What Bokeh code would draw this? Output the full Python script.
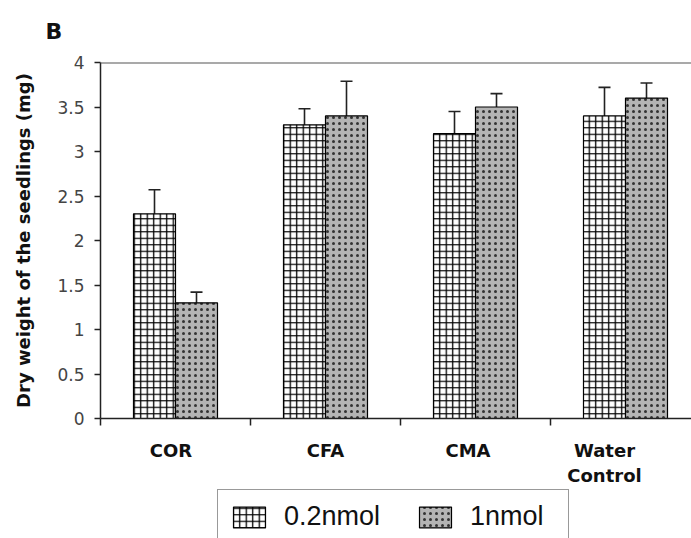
from bokeh.plotting import figure
from bokeh.layouts import column
from bokeh.models import (Range1d, FixedTicker, Whisker, ColumnDataSource, Legend,
                          LegendItem, Span, TeeHead)
from bokeh.embed import file_html
from bokeh.resources import INLINE

# ---- data ----
categories = ["COR", "CFA", "CMA", "Water\nControl"]
low_dose = [2.3, 3.3, 3.2, 3.4]          # 0.2nmol
low_err = [0.27, 0.18, 0.25, 0.32]
high_dose = [1.3, 3.4, 3.5, 3.6]         # 1nmol
high_err = [0.12, 0.39, 0.15, 0.17]
series_names = ["0.2nmol", "1nmol"]
y_ticks = [0, 0.5, 1, 1.5, 2, 2.5, 3, 3.5, 4]
y_tick_labels = ["0", "0.5", "1", "1.5", "2", "2.5", "3", "3.5", "4"]
label_pos = [0.47, 1.5, 2.45, 3.36]

W = 691
H1, H2 = 488, 50
LEFT, TOP, FRAME_H = 100, 62, 356
CAT_PX = 150.0

LOW_STYLE = dict(fill_color="white", line_color="black", line_width=1.2,
                 hatch_pattern="+", hatch_color="black", hatch_scale=6.5, hatch_weight=1.3)
HIGH_STYLE = dict(fill_color="#b4b4b4", line_color="black", line_width=1.2,
                  hatch_pattern=".", hatch_color="#333333", hatch_scale=6, hatch_weight=1.3)

p = figure(width=W, height=H1, output_backend="svg", toolbar_location=None,
           x_range=Range1d(0, (W - LEFT) / CAT_PX), y_range=Range1d(0, 4),
           min_border_left=LEFT, min_border_right=0, min_border_top=TOP,
           min_border_bottom=H1 - TOP - FRAME_H)
p.outline_line_color = None
p.xgrid.visible = False
p.ygrid.visible = False
p.background_fill_color = "white"

# panel letter
p.title.text = "B"
p.title.align = "left"
p.title.vertical_align = "top"
p.title.offset = -55
p.title.standoff = 34
p.title.text_font = "DejaVu Sans"
p.title.text_font_style = "bold"
p.title.text_font_size = "22px"
p.title.text_color = "#111111"

bw = 0.28
x_low = [i + 0.5 - bw / 2 for i in range(len(categories))]
x_high = [i + 0.5 + bw / 2 for i in range(len(categories))]

src_low = ColumnDataSource(dict(x=x_low, top=low_dose,
                                upper=[v + e for v, e in zip(low_dose, low_err)],
                                lower=[v - e for v, e in zip(low_dose, low_err)]))
src_high = ColumnDataSource(dict(x=x_high, top=high_dose,
                                 upper=[v + e for v, e in zip(high_dose, high_err)],
                                 lower=[v - e for v, e in zip(high_dose, high_err)]))

p.vbar(x="x", top="top", bottom=0, width=bw, source=src_low, **LOW_STYLE)
p.vbar(x="x", top="top", bottom=0, width=bw, source=src_high, **HIGH_STYLE)

for src in (src_low, src_high):
    w = Whisker(source=src, base="x", upper="upper", lower="lower",
                line_color="#222222", line_width=1.6,
                upper_head=TeeHead(size=12, line_color="#222222", line_width=1.6),
                lower_head=TeeHead(size=12, line_color="#222222", line_width=1.6))
    p.add_layout(w)

# top frame line
p.add_layout(Span(location=4, dimension="width", line_color="#555555", line_width=2))

# x axis
xa = p.xaxis[0]
xa.ticker = FixedTicker(ticks=label_pos, minor_ticks=list(range(len(categories) + 1)))
xa.major_label_overrides = {pos: c for pos, c in zip(label_pos, categories)}
xa.major_tick_line_color = None
xa.major_tick_out = 0
xa.major_tick_in = 0
xa.minor_tick_out = 7
xa.minor_tick_in = 0
xa.minor_tick_line_color = "#222222"
xa.minor_tick_line_width = 1.5
xa.axis_line_color = "#222222"
xa.axis_line_width = 1.5
xa.major_label_standoff = 14
xa.major_label_text_font = "DejaVu Sans"
xa.major_label_text_font_style = "bold"
xa.major_label_text_font_size = "18px"
xa.major_label_text_color = "#111111"

# y axis
ya = p.yaxis[0]
ya.ticker = FixedTicker(ticks=y_ticks)
ya.major_label_overrides = {t: l for t, l in zip(y_ticks, y_tick_labels)}
ya.minor_tick_line_color = None
ya.major_tick_out = 6
ya.major_tick_in = 0
ya.major_tick_line_color = "#222222"
ya.major_tick_line_width = 1.5
ya.axis_line_color = "#222222"
ya.axis_line_width = 1.5
ya.major_label_standoff = 10
ya.major_label_text_font = "DejaVu Sans"
ya.major_label_text_font_size = "17px"
ya.major_label_text_color = "#444444"
ya.axis_label = "Dry weight of the seedlings (mg)"
ya.axis_label_text_font = "DejaVu Sans"
ya.axis_label_text_font_style = "bold"
ya.axis_label_text_font_size = "18px"
ya.axis_label_text_color = "#111111"
ya.axis_label_standoff = 20

# ---- legend strip below ----
q = figure(width=W, height=H2, output_backend="svg", toolbar_location=None,
           x_range=Range1d(0, 1), y_range=Range1d(0, 1),
           x_axis_type=None, y_axis_type=None,
           min_border_left=0, min_border_right=0, min_border_top=0, min_border_bottom=0)
q.outline_line_color = None
q.xgrid.visible = False
q.ygrid.visible = False
# proxies placed far outside the visible range, only used for the legend swatches
g_low = q.vbar(x=[-50], top=[-50], bottom=-51, width=0.1, **LOW_STYLE)
g_high = q.vbar(x=[-50], top=[-50], bottom=-51, width=0.1, **HIGH_STYLE)

legend = Legend(items=[LegendItem(label=series_names[0], renderers=[g_low]),
                       LegendItem(label=series_names[1], renderers=[g_high])],
                orientation="horizontal", location=(117, -6),
                padding=11, spacing=35, glyph_width=40, glyph_height=26,
                label_height=26, label_width=87, label_standoff=15,
                label_text_font="Liberation Sans", label_text_font_size="27px",
                label_text_color="#111111",
                border_line_color="#333333", border_line_width=1.5,
                background_fill_color="white", background_fill_alpha=1)
q.add_layout(legend, "center")

layout = column(p, q, spacing=0)
open("out.html", "w").write(file_html(layout, INLINE))
